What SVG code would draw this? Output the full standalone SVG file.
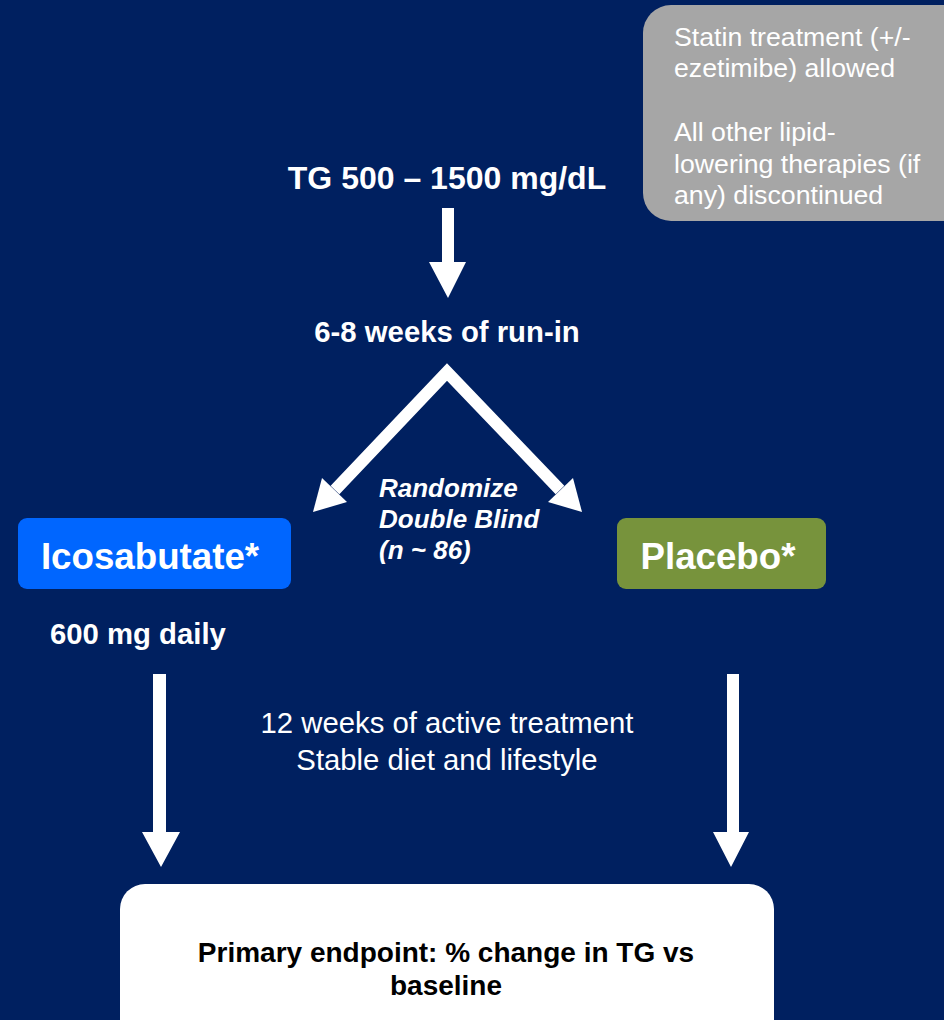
<svg xmlns="http://www.w3.org/2000/svg" width="944" height="1020" viewBox="0 0 944 1020">
<style>
text{font-family:"Liberation Sans",Arial,sans-serif;fill:#fff}
.b{font-weight:bold}
.c{text-anchor:middle}
.note{font-size:26.7px}
.bi{font-weight:bold;font-style:italic;font-size:26px}
.arm{font-weight:bold;font-size:36.7px;text-anchor:middle}
.dark{fill:#000}
</style>
<rect width="944" height="1020" fill="#002060"/>
<g id="note">
<rect x="643" y="5" width="330" height="216" rx="28" fill="#A6A6A6"/>
<text class="note" x="674" y="46">Statin treatment (+/-</text>
<text class="note" x="674" y="77">ezetimibe) allowed</text>
<text class="note" x="674" y="141">All other lipid-</text>
<text class="note" x="674" y="173">lowering therapies (if</text>
<text class="note" x="674" y="204">any) discontinued</text>
</g>
<g id="tg"><text class="b c" x="447" y="189" font-size="32">TG 500 – 1500 mg/dL</text></g>
<g id="runin"><text class="b c" x="447" y="342" font-size="29.3">6-8 weeks of run-in</text></g>
<g id="randomize">
<text class="bi" x="379" y="497">Randomize</text>
<text class="bi" x="379" y="528">Double Blind</text>
<text class="bi" x="379" y="559">(n ~ 86)</text>
</g>
<g id="icosabutate">
<rect x="18" y="518" width="273" height="71" rx="9" fill="#0066FF"/>
<text class="arm" x="150" y="569">Icosabutate*</text>
</g>
<g id="dose"><text class="b" x="50" y="644" font-size="29.3">600 mg daily</text></g>
<g id="placebo">
<rect x="617" y="518" width="209" height="71" rx="9" fill="#77933C"/>
<text class="arm" x="718" y="569">Placebo*</text>
</g>
<g id="treatment">
<text class="c" x="447" y="733" font-size="29.3">12 weeks of active treatment</text>
<text class="c" x="447" y="770" font-size="29.3">Stable diet and lifestyle</text>
</g>
<g id="endpoint">
<rect x="120" y="884" width="654" height="170" rx="25" fill="#fff"/>
<text class="b c dark" x="446" y="962" font-size="28">Primary endpoint: % change in TG vs</text>
<text class="b c dark" x="446" y="995" font-size="28">baseline</text>
</g>
<g id="connectors" fill="#fff">
<path d="M442,208 H454 V262 H466 L448,298 L429,262 H442 Z"/>
<polyline points="335,490 447,372 560,490" fill="none" stroke="#fff" stroke-width="12" stroke-linejoin="miter" stroke-miterlimit="10"/>
<path d="M313,512 L322,478 L347,502 Z"/>
<path d="M582,512 L573,478 L548,502 Z"/>
<path d="M153,674 H166 V832 H180 L161,867 L142,832 H153 Z"/>
<path d="M727,674 H739 V832 H749 L731,867 L713,832 H727 Z"/>
</g>
</svg>
